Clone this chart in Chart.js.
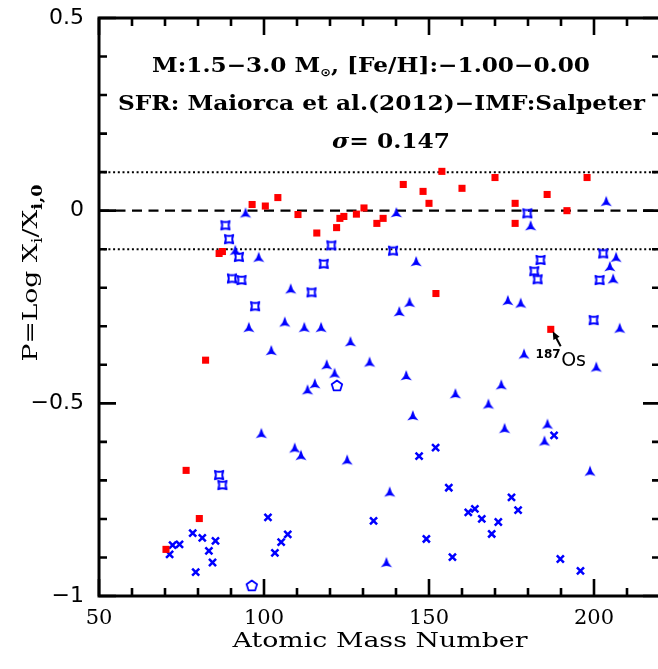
<!DOCTYPE html>
<html>
<head>
<meta charset="utf-8">
<script src="https://cdn.jsdelivr.net/npm/chart.js@4.4.1/dist/chart.umd.min.js"></script>
<style>
html, body { margin: 0; padding: 0; background: #fff; overflow: hidden; }
#wrap { width: 658px; height: 669px; overflow: hidden; }
</style>
</head>
<body>
<div id="wrap"><canvas id="chart" width="670" height="669"></canvas></div>
<script>
// values
const redMass = [70.3, 76.4, 80.4, 82.3, 86.4, 87.4, 96.4, 100.4, 104.2, 110.3, 116.0, 122.0, 123.0, 124.2, 128.0, 130.3,
  134.2, 136.1, 142.2, 148.2, 150.0, 152.1, 153.9, 160.0, 170.0, 176.1, 176.1, 185.8, 186.9, 191.8, 197.9];
const redP = [-0.879, -0.674, -0.799, -0.388, -0.111, -0.106, 0.016, 0.012, 0.034, -0.010, -0.058, -0.044, -0.020, -0.015, -0.009, 0.007,
  -0.033, -0.020, 0.068, 0.050, 0.019, -0.215, 0.102, 0.058, 0.086, 0.019, -0.033, 0.042, -0.308, 0.0, 0.086];

const triMass = [94.4, 91.3, 98.4, 108.1, 95.4, 106.3, 112.2, 117.3, 102.2, 126.2, 119.0, 121.4, 115.4, 113.2,
  140.1, 146.1, 144.1, 141.0, 132.0, 143.1, 158.0, 168.0, 171.9, 180.8, 173.9, 177.8, 178.8, 200.7,
  203.7, 206.7, 204.8, 205.8, 207.8, 99.2, 109.3, 111.2, 125.2, 145.1, 172.9, 185.9, 185.0, 198.8, 138.1, 137.1];
const triP = [-0.007, -0.104, -0.122, -0.204, -0.304, -0.290, -0.304, -0.304, -0.364, -0.341, -0.401, -0.423, -0.450, -0.466,
  -0.006, -0.133, -0.239, -0.263, -0.394, -0.429, -0.476, -0.503, -0.453, -0.040, -0.234, -0.241, -0.373, -0.407,
  0.023, -0.122, -0.146, -0.178, -0.306, -0.579, -0.617, -0.636, -0.648, -0.533, -0.566, -0.555, -0.599, -0.677, -0.731, -0.914];

const starMass = [88.3, 89.4, 92.4, 90.3, 93.2, 97.3, 114.4, 120.4, 118.1, 139.1, 179.8, 183.8, 181.9, 182.9, 202.8, 201.7, 199.9, 86.4, 87.4];
const starP = [-0.038, -0.074, -0.120, -0.176, -0.180, -0.248, -0.212, -0.090, -0.138, -0.104, -0.007, -0.128, -0.157, -0.178, -0.111, -0.180, -0.284, -0.686, -0.712];

const crossMass = [101.2, 78.4, 81.3, 85.3, 83.3, 84.4, 79.3, 72.3, 74.4, 71.4, 107.2, 105.2, 103.3,
  187.9, 147.0, 152.0, 156.0, 133.2, 149.2, 157.1, 161.9, 163.9, 166.0, 171.0, 169.0, 175.0, 177.0, 189.8, 195.9];
const crossP = [-0.796, -0.837, -0.849, -0.857, -0.883, -0.913, -0.938, -0.868, -0.866, -0.892, -0.840, -0.860, -0.888,
  -0.583, -0.637, -0.615, -0.719, -0.805, -0.852, -0.899, -0.783, -0.774, -0.800, -0.808, -0.839, -0.744, -0.777, -0.904, -0.935];

const pentMass = [122.1, 96.3];
const pentP = [-0.455, -0.974];

const xRange = [50, 220];
const yRange = [-1, 0.5];
const xTicks = [50, 100, 150, 200];
const xTickLabels = ['50', '100', '150', '200'];
const yTicks = [-1, -0.5, 0, 0.5];
const yTickLabels = ['\u22121', '\u22120.5', '0', '0.5'];
const refLevels = [0, 0.1, -0.1];

const osLabelAt = [182.3, -0.403];
const osArrowFrom = [189.9, -0.352];
const osArrowTo = [187.5, -0.313];

const BLUE = '#0000ff';
const RED = '#ff0000';

function pts(xs, ys) {
  return xs.map((v, i) => ({ x: v, y: ys[i] }));
}

function marker(size, draw) {
  const c = document.createElement('canvas');
  c.width = size; c.height = size;
  const g = c.getContext('2d');
  g.translate(size / 2, size / 2);
  g.lineJoin = 'round';
  draw(g);
  return c;
}

const triMarker = marker(16, g => {
  g.fillStyle = BLUE;
  g.beginPath();
  g.moveTo(0, -6);
  g.quadraticCurveTo(1.3, 0, 5.6, 4.6);
  g.quadraticCurveTo(0, 1.6, -5.6, 4.6);
  g.quadraticCurveTo(-1.3, 0, 0, -6);
  g.fill();
});

const starMarker = marker(14, g => {
  g.strokeStyle = BLUE;
  g.lineWidth = 1.9;
  const r = 4.2, k = 2.2;
  g.beginPath();
  g.moveTo(-r, -r);
  g.quadraticCurveTo(0, -k, r, -r);
  g.quadraticCurveTo(k, 0, r, r);
  g.quadraticCurveTo(0, k, -r, r);
  g.quadraticCurveTo(-k, 0, -r, -r);
  g.closePath();
  g.stroke();
});

const pentMarker = marker(16, g => {
  g.strokeStyle = BLUE;
  g.lineWidth = 1.8;
  g.beginPath();
  for (let i = 0; i < 5; i++) {
    const a = -Math.PI / 2 + i * 2 * Math.PI / 5;
    const px = 5.5 * Math.cos(a), py = 5.5 * Math.sin(a);
    if (i === 0) g.moveTo(px, py); else g.lineTo(px, py);
  }
  g.closePath();
  g.stroke();
});

function refLine(level, dash, width) {
  return {
    type: 'line',
    data: [{ x: xRange[0], y: level }, { x: xRange[1], y: level }],
    borderColor: '#000',
    borderWidth: width,
    borderDash: dash,
    pointRadius: 0,
    fill: false
  };
}

// draws a run of text pieces (font, vertical shift) squeezed to a given width
function drawRun(ctx, segs, cx, base, width) {
  let total = 0;
  segs.forEach(s => { ctx.font = s.f; s.w = ctx.measureText(s.t).width; total += s.w; });
  const k = width / total;
  ctx.save();
  ctx.translate(cx - width / 2, base);
  ctx.scale(k, 1);
  let x = 0;
  segs.forEach(s => {
    ctx.font = s.f;
    ctx.fillText(s.t, x, s.dy || 0);
    x += s.w;
  });
  ctx.restore();
}

const frame = {
  id: 'frame',
  afterDraw(chart) {
    const { ctx, chartArea: a, scales: { x, y } } = chart;
    ctx.save();
    ctx.strokeStyle = '#000';
    ctx.fillStyle = '#000';
    ctx.lineWidth = 3;
    ctx.strokeRect(a.left, a.top, a.right - a.left, a.bottom - a.top);

    ctx.lineWidth = 2.6;
    ctx.beginPath();
    for (let v = xRange[0]; v <= xRange[1]; v += 10) {
      const px = x.getPixelForValue(v);
      const len = xTicks.includes(v) ? 17 : 8;
      ctx.moveTo(px, a.bottom); ctx.lineTo(px, a.bottom - len);
      ctx.moveTo(px, a.top); ctx.lineTo(px, a.top + len);
    }
    for (let i = -10; i <= 5; i++) {
      const py = y.getPixelForValue(i / 10);
      const len = i % 5 === 0 ? 17 : 8;
      ctx.moveTo(a.left, py); ctx.lineTo(a.left + len, py);
      ctx.moveTo(a.right, py); ctx.lineTo(a.right - len, py);
    }
    ctx.stroke();

    // tick labels
    ctx.textAlign = 'center';
    ctx.textBaseline = 'alphabetic';
    ctx.font = '21px "DejaVu Serif"';
    xTicks.forEach((v, i) => ctx.fillText(xTickLabels[i], x.getPixelForValue(v), 624));
    ctx.textAlign = 'right';
    ctx.textBaseline = 'middle';
    ctx.font = '22px "DejaVu Sans"';
    yTicks.forEach((v, i) => ctx.fillText(yTickLabels[i], 84, y.getPixelForValue(v)));

    // axis titles
    ctx.textAlign = 'left';
    ctx.textBaseline = 'alphabetic';
    const slab = '21px "DejaVu Serif"';
    const slabSub = '14px "DejaVu Serif"';
    drawRun(ctx, [{ t: 'Atomic Mass Number', f: slab }], 380, 647, 295);
    ctx.save();
    ctx.translate(37, 273);
    ctx.rotate(-Math.PI / 2);
    drawRun(ctx, [
      { t: 'P=Log X', f: slab },
      { t: 'i', f: slabSub, dy: 5 },
      { t: '/X', f: slab },
      { t: 'i,0', f: 'bold 14px "DejaVu Serif"', dy: 5 }
    ], 0, 0, 177);
    ctx.restore();

    // header text
    const serif = 'bold 20px "DejaVu Serif"';
    drawRun(ctx, [
      { t: 'M:1.5\u22123.0 M', f: serif },
      { t: '\u2299', f: 'bold 11px "DejaVu Sans"', dy: 4 },
      { t: ', [Fe/H]:\u22121.00\u22120.00', f: serif }
    ], 371, 72, 438);
    drawRun(ctx, [{ t: 'SFR: Maiorca et al.(2012)\u2212IMF:Salpeter', f: serif }], 381.5, 110, 527);
    drawRun(ctx, [
      { t: '\u03c3', f: 'italic bold 20px "DejaVu Serif"' },
      { t: '= 0.147', f: serif }
    ], 391, 148, 118);

    // 187Os note and arrow
    const lx = x.getPixelForValue(osLabelAt[0]), ly = y.getPixelForValue(osLabelAt[1]);
    ctx.font = 'bold 12px "DejaVu Sans"';
    ctx.fillText('187', lx, ly - 8);
    const sw = ctx.measureText('187').width;
    ctx.font = '19px "DejaVu Sans"';
    ctx.fillText('Os', lx + sw + 0.5, ly);
    const x0 = x.getPixelForValue(osArrowFrom[0]), y0 = y.getPixelForValue(osArrowFrom[1]);
    const x1 = x.getPixelForValue(osArrowTo[0]), y1 = y.getPixelForValue(osArrowTo[1]);
    const ang = Math.atan2(y1 - y0, x1 - x0);
    ctx.lineWidth = 2;
    ctx.beginPath();
    ctx.moveTo(x0, y0); ctx.lineTo(x1 - 5 * Math.cos(ang), y1 - 5 * Math.sin(ang));
    ctx.stroke();
    ctx.beginPath();
    ctx.moveTo(x1, y1);
    ctx.lineTo(x1 - 8 * Math.cos(ang) + 3.5 * Math.sin(ang), y1 - 8 * Math.sin(ang) - 3.5 * Math.cos(ang));
    ctx.lineTo(x1 - 8 * Math.cos(ang) - 3.5 * Math.sin(ang), y1 - 8 * Math.sin(ang) + 3.5 * Math.cos(ang));
    ctx.closePath();
    ctx.fill();
    ctx.restore();
  }
};

new Chart(document.getElementById('chart'), {
  type: 'scatter',
  data: {
    datasets: [
      { data: pts(redMass, redP), pointStyle: 'rect', pointRadius: 5, backgroundColor: RED, borderWidth: 0 },
      { data: pts(triMass, triP), pointStyle: triMarker, pointRadius: 5 },
      { data: pts(starMass, starP), pointStyle: starMarker, pointRadius: 5 },
      { data: pts(crossMass, crossP), pointStyle: 'crossRot', pointRadius: 5, borderColor: BLUE, borderWidth: 2.5 },
      { data: pts(pentMass, pentP), pointStyle: pentMarker, pointRadius: 6 },
      refLine(refLevels[0], [10, 6.5], 2.3),
      refLine(refLevels[1], [2, 2.7], 2),
      refLine(refLevels[2], [2, 2.7], 2)
    ]
  },
  options: {
    responsive: false,
    devicePixelRatio: 1,
    animation: false,
    layout: { padding: { left: 99, right: 10, top: 18, bottom: 73 } },
    plugins: { legend: { display: false }, tooltip: { enabled: false } },
    scales: {
      x: { type: 'linear', min: xRange[0], max: xRange[1], display: false },
      y: { type: 'linear', min: yRange[0], max: yRange[1], display: false }
    }
  },
  plugins: [frame]
});
</script>
</body>
</html>
